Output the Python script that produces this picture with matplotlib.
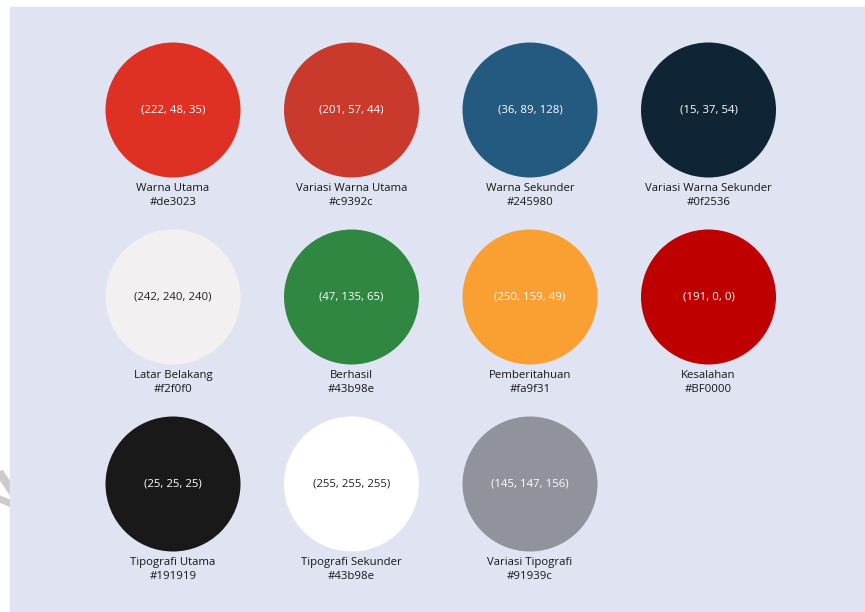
import matplotlib.pyplot as plt
from matplotlib.patches import Circle, Rectangle

names = ['Warna Utama', 'Variasi Warna Utama', 'Warna Sekunder', 'Variasi Warna Sekunder',
         'Latar Belakang', 'Berhasil', 'Pemberitahuan', 'Kesalahan',
         'Tipografi Utama', 'Tipografi Sekunder', 'Variasi Tipografi']
hex_labels = ['#de3023', '#c9392c', '#245980', '#0f2536',
              '#f2f0f0', '#43b98e', '#fa9f31', '#BF0000',
              '#191919', '#43b98e', '#91939c']
rgb_values = [(222, 48, 35), (201, 57, 44), (36, 89, 128), (15, 37, 54),
              (242, 240, 240), (47, 135, 65), (250, 159, 49), (191, 0, 0),
              (25, 25, 25), (255, 255, 255), (145, 147, 156)]

plt.rcParams['font.family'] = ['Open Sans', 'DejaVu Sans']

fig = plt.figure(figsize=(8.65, 6.12), dpi=100)
ax = fig.add_axes([0, 0, 1, 1])
ax.set_xlim(0, 865)
ax.set_ylim(612, 0)
ax.axis('off')

# faint watermark stroke, only visible in the white margin
ax.plot([-5, 14], [466, 494], color='#cbcbcb', lw=6, solid_capstyle='butt', zorder=0)
ax.plot([-5, 14], [497, 505], color='#cbcbcb', lw=5, solid_capstyle='butt', zorder=0)
# panel
ax.add_patch(Rectangle((10, 7), 860, 610, color='#e0e4f2', zorder=1))

x0, dx = 173, 178.5
y0, dy = 110, 187
r = 67.5

for i, (name, hx, rgb) in enumerate(zip(names, hex_labels, rgb_values)):
    cx = x0 + (i % 4) * dx
    cy = y0 + (i // 4) * dy
    fc = tuple(v / 255 for v in rgb)
    ax.add_patch(Circle((cx, cy), r, facecolor=fc, edgecolor='none', zorder=2))
    light = sum(rgb) / 3 > 200
    tc = '#222222' if light else 'white'
    ax.text(cx, cy, '(%d, %d, %d)' % rgb, color=tc, fontsize=8.2,
            ha='center', va='center', zorder=3)
    ax.text(cx, cy + r + 11, name, color='#161616', fontsize=8.2,
            ha='center', va='center', zorder=3)
    ax.text(cx, cy + r + 25, hx, color='#161616', fontsize=8.2,
            ha='center', va='center', zorder=3)

fig.savefig('out.png', dpi=100, facecolor='white')
